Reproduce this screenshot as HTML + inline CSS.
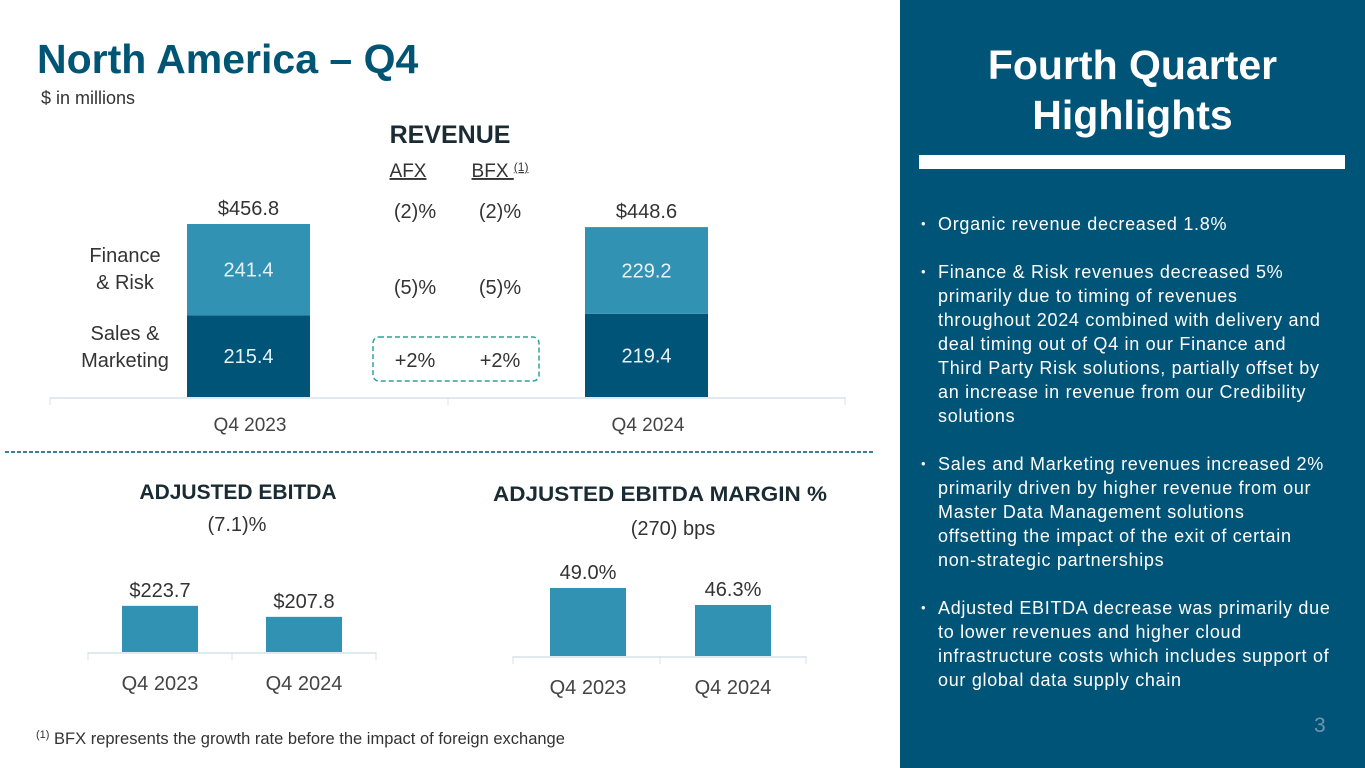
<!DOCTYPE html>
<html><head><meta charset="utf-8"><style>
body{margin:0;width:1365px;height:768px;overflow:hidden;background:#fff;font-family:"Liberation Sans",sans-serif;}
svg{position:absolute;left:0;top:0}
.panel{position:absolute;left:900px;top:0;width:465px;height:768px;background:#005477;color:#fff}
.ph{position:absolute;left:0;width:465px;top:40px;text-align:center;font-weight:bold;font-size:41px;line-height:50px}
.bar{position:absolute;left:19px;top:155px;width:426px;height:14px;background:#fff}
ul{position:absolute;left:18px;top:212px;margin:0;padding:0;list-style:none;width:447px;font-size:18px;line-height:24px;white-space:nowrap;letter-spacing:0.7px}
li{position:relative;padding-left:20px;margin-bottom:24px}
li:before{content:"•";position:absolute;left:3px;font-size:13px}
</style></head><body>
<div class="panel">
<div class="ph">Fourth Quarter<br>Highlights</div>
<div class="bar"></div>
<ul>
<li>Organic revenue decreased 1.8%</li>
<li>Finance &amp; Risk revenues decreased 5%<br>primarily due to timing of revenues<br>throughout 2024 combined with delivery and<br>deal timing out of Q4 in our Finance and<br>Third Party Risk solutions, partially offset by<br>an increase in revenue from our Credibility<br>solutions</li>
<li>Sales and Marketing revenues increased 2%<br>primarily driven by higher revenue from our<br>Master Data Management solutions<br>offsetting the impact of the exit of certain<br>non-strategic partnerships</li>
<li>Adjusted EBITDA decrease was primarily due<br>to lower revenues and higher cloud<br>infrastructure costs which includes support of<br>our global data supply chain</li>
</ul>
<div style="position:absolute;left:414px;top:714px;font-size:21px;color:#6f96ad">3</div>
</div>
<svg id="s" width="900" height="768">
<text x="37" y="73" font-size="41" font-weight="bold" fill="#005575">North America – Q4</text>
<text x="41" y="104" font-size="18" fill="#333">$ in millions</text>
<text x="450" y="143" font-size="25" font-weight="bold" fill="#1a2b33" text-anchor="middle">REVENUE</text>
<text x="408" y="177" font-size="19" fill="#333" text-anchor="middle" text-decoration="underline">AFX</text>
<text x="500" y="177" font-size="19" fill="#333" text-anchor="middle" text-decoration="underline">BFX <tspan font-size="12" dy="-6">(1)</tspan></text>
<text x="125" y="262" font-size="20" fill="#333" text-anchor="middle"><tspan x="125">Finance</tspan><tspan x="125" dy="27">&amp; Risk</tspan></text>
<text x="125" y="340" font-size="20" fill="#333" text-anchor="middle"><tspan x="125">Sales &amp;</tspan><tspan x="125" dy="27">Marketing</tspan></text>
<rect x="373" y="337" width="166" height="44" rx="6" fill="none" stroke="#2aa39b" stroke-width="1.5" stroke-dasharray="5,3"/>
<line x1="5" y1="452" x2="875" y2="452" stroke="#005477" stroke-width="1.5" stroke-dasharray="4,2"/>
<text x="238" y="499" font-size="21" font-weight="bold" fill="#1a2b33" text-anchor="middle">ADJUSTED EBITDA</text>
<text x="237" y="531" font-size="20" fill="#333" text-anchor="middle">(7.1)%</text>
<text x="660" y="501" font-size="21" font-weight="bold" fill="#1a2b33" text-anchor="middle" textLength="334" lengthAdjust="spacingAndGlyphs">ADJUSTED EBITDA MARGIN %</text>
<text x="673" y="535" font-size="20" fill="#333" text-anchor="middle">(270) bps</text>
<text x="36" y="744" font-size="16.5" fill="#333"><tspan font-size="11" dy="-6">(1)</tspan><tspan dy="6"> BFX represents the growth rate before the impact of foreign exchange</tspan></text>
</svg>
<script>
const revCats=["Q4 2023","Q4 2024"];
const revSM=[215.4,219.4];
const revFR=[241.4,229.2];
const revTotals=["$456.8","$448.6"];
const afx=["(2)%","(5)%","+2%"];
const bfx=["(2)%","(5)%","+2%"];
const ebCats=["Q4 2023","Q4 2024"];
const ebVals=[223.7,207.8];
const ebLabels=["$223.7","$207.8"];
const mgCats=["Q4 2023","Q4 2024"];
const mgVals=[49.0,46.3];
const mgLabels=["49.0%","46.3%"];
const s=document.getElementById('s'),NS="http://www.w3.org/2000/svg";
function mk(t,a,txt){const e=document.createElementNS(NS,t);for(const k in a)e.setAttribute(k,a[k]);if(txt!=null)e.textContent=txt;s.appendChild(e);return e;}
const rBase=397,rK=173/456.8,rX=[187,585],rW=123;
const ry=v=>rBase-v*rK;
mk('line',{x1:50,y1:rBase+1,x2:845,y2:rBase+1,stroke:'#d5e2ea','stroke-width':1.5});
[50,448,845].forEach(x=>mk('line',{x1:x,y1:rBase,x2:x,y2:rBase+8,stroke:'#d5e2ea'}));
revCats.forEach((c,i)=>{
 const x=rX[i],top=ry(revSM[i]+revFR[i]),mid=ry(revSM[i]);
 let e=mk('rect',{x:x,y:mid,width:rW,height:rBase-mid,fill:'#005477'});
 
 
 e=mk('rect',{x:x,y:top,width:rW,height:mid-top,fill:'#3192b3'});
 
 
 mk('text',{x:x+rW/2,y:(mid+rBase)/2+7,'font-size':20,fill:'#e8f2f6','text-anchor':'middle'},revSM[i].toFixed(1));
 mk('text',{x:x+rW/2,y:(top+mid)/2+7,'font-size':20,fill:'#e8f2f6','text-anchor':'middle'},revFR[i].toFixed(1));
 e=mk('text',{x:x+rW/2,y:top-9,'font-size':20,fill:'#333','text-anchor':'middle'},revTotals[i]);
 
 
 e=mk('text',{x:[250,648][i],y:431,'font-size':19,fill:'#444','text-anchor':'middle'},c);
 
 
});
const rowY=[218,294,367];
afx.forEach((v,i)=>{mk('text',{x:415,y:rowY[i],'font-size':20,fill:'#333','text-anchor':'middle'},v);
 mk('text',{x:500,y:rowY[i],'font-size':20,fill:'#333','text-anchor':'middle'},bfx[i]);});
function small(cats,vals,labels,base,minV,k,xs,axis,name){
 mk('line',{x1:axis[0],y1:base+1,x2:axis[2],y2:base+1,stroke:'#d5e2ea','stroke-width':1.5});
 axis.forEach(x=>mk('line',{x1:x,y1:base,x2:x,y2:base+8,stroke:'#d5e2ea'}));
 cats.forEach((c,i)=>{const h=(vals[i]-minV)*k;
  let e=mk('rect',{x:xs[i],y:base-h,width:76,height:h,fill:'#3192b3'});
  
  
  mk('text',{x:xs[i]+38,y:base-h-9,'font-size':20,fill:'#333','text-anchor':'middle'},labels[i]);
  e=mk('text',{x:xs[i]+38,y:base+38,'font-size':20,fill:'#444','text-anchor':'middle'},c);
  
  
 });
}
small(ebCats,ebVals,ebLabels,652,157,0.692,[122,266],[88,232,376],'ebitda');
small(mgCats,mgVals,mgLabels,656,38.2,6.3,[550,695],[513,660,806],'margin');
</script>
</body></html>
